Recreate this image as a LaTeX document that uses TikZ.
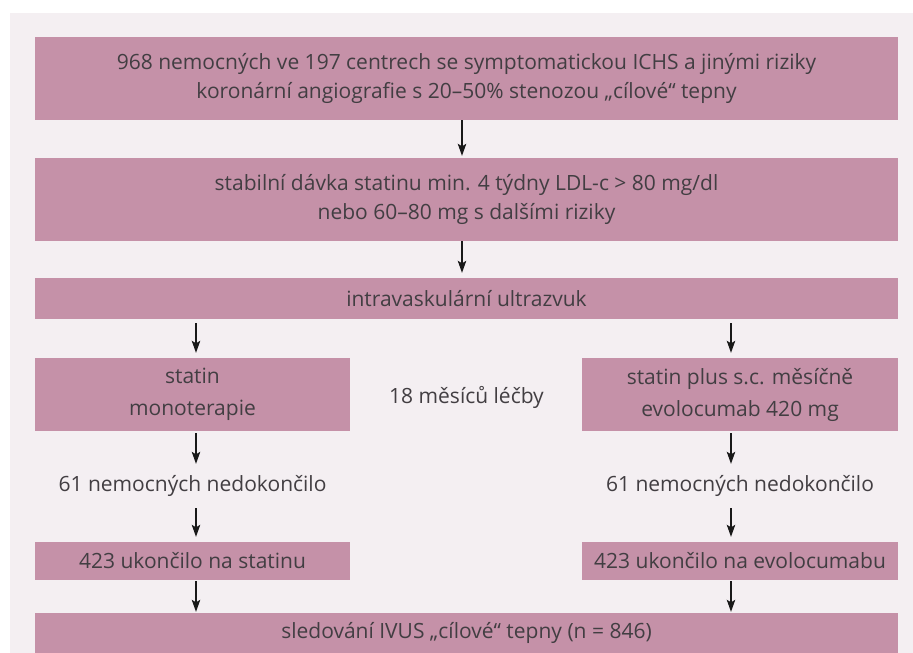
\documentclass[tikz,border=0pt]{standalone}
\usepackage{fontspec}
\setmainfont{Open Sans}
\usetikzlibrary{arrows.meta}
\definecolor{boxfill}{RGB}{197,145,168}
\definecolor{panel}{RGB}{244,239,242}
\definecolor{ink}{RGB}{66,62,66}
\tikzset{
  box/.style={fill=boxfill, text=ink, align=center, inner sep=0pt},
  lbl/.style={text=ink, align=center, inner sep=0pt},
  arr/.style={-{Stealth[length=12pt,width=8.5pt,inset=2.5pt]}, line width=1.1pt, draw=black!90}
}
\begin{document}
\begin{tikzpicture}[x=1pt, y=-1pt, font=\fontsize{21}{28.5}\selectfont]
\useasboundingbox (0,0) rectangle (913,653);
\fill[panel] (10,13) rectangle (913,653);

\node[box, minimum width=863, minimum height=83] (pts) at (466.5,78.5) {968 nemocných ve 197 centrech se symptomatickou ICHS a jinými riziky\\ koronární angiografie s 20–50\% stenozou „cílové“ tepny};
\node[box, minimum width=863, minimum height=83] (dose) at (466.5,199.5) {stabilní dávka statinu min. 4 týdny LDL-c > 80 mg/dl\\ nebo 60–80 mg s dalšími riziky};
\node[box, minimum width=863, minimum height=41] (ivus) at (466.5,298.5) {intravaskulární ultrazvuk};
\node[box, minimum width=315, minimum height=73, font=\fontsize{21}{32}\selectfont] (stat) at (192.5,394.5) {statin\\ monoterapie};
\node[box, minimum width=316, minimum height=73, font=\fontsize{21}{32}\selectfont] (evo) at (740,394.5) {statin plus s.c. měsíčně\\ evolocumab 420 mg};
\node[lbl] (time) at (466.5,397) {18 měsíců léčby};
\node[lbl, minimum height=44] (dropl) at (192.5,486) {61 nemocných nedokončilo};
\node[lbl, minimum height=44] (dropr) at (740,486) {61 nemocných nedokončilo};
\node[box, minimum width=315, minimum height=38] (endl) at (192.5,561) {423 ukončilo na statinu};
\node[box, minimum width=316, minimum height=38] (endr) at (740,561) {423 ukončilo na evolocumabu};
\node[box, minimum width=863, minimum height=40] (fu) at (466.5,633) {sledování IVUS „cílové“ tepny (n = 846)};

\draw[arr, shorten >=2pt] ([xshift=-4.5]pts.south) -- ([xshift=-4.5]dose.north);
\draw[arr, shorten >=5pt] ([xshift=-4.5]dose.south) -- ([xshift=-4.5]ivus.north);
\draw[arr, shorten <=4pt, shorten >=5pt] ([xshift=3.5]ivus.south -| stat.north) -- ([xshift=3.5]stat.north);
\draw[arr, shorten <=4pt, shorten >=5pt] ([xshift=-9]ivus.south -| evo.north) -- ([xshift=-9]evo.north);
\draw[arr, shorten <=2pt] ([xshift=3.5]stat.south) -- ([xshift=3.5]dropl.north);
\draw[arr, shorten <=2pt] ([xshift=-9]evo.south) -- ([xshift=-9]dropr.north);
\draw[arr, shorten >=5pt] ([xshift=3.5]dropl.south) -- ([xshift=3.5]endl.north);
\draw[arr, shorten >=5pt] ([xshift=-9]dropr.south) -- ([xshift=-9]endr.north);
\draw[arr, shorten <=1pt, shorten >=1pt] ([xshift=3.5]endl.south) -- ([xshift=3.5]endl.south |- fu.north);
\draw[arr, shorten <=1pt, shorten >=1pt] ([xshift=-9]endr.south) -- ([xshift=-9]endr.south |- fu.north);
\end{tikzpicture}
\end{document}
